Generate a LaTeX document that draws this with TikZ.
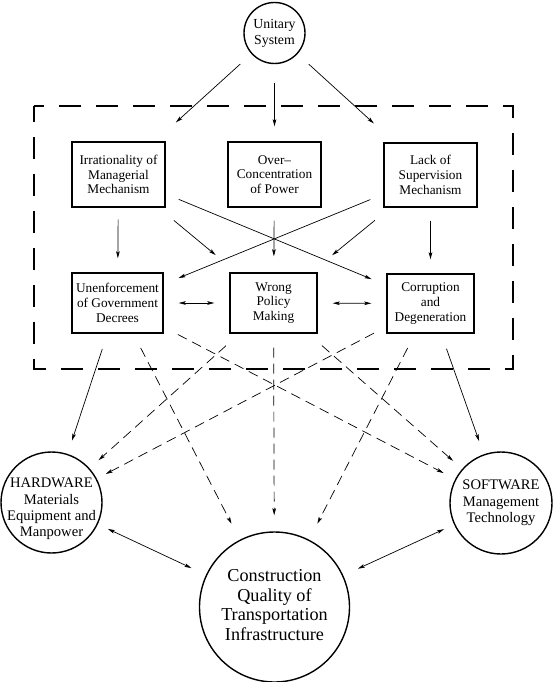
\documentclass[tikz,border=0pt]{standalone}
\usepackage{fontspec}
\setmainfont{Liberation Serif}
\usetikzlibrary{arrows.meta}
\newcommand{\mycirctext}[2][40pt]{\makebox[#1]{\begin{tabular}{@{}c@{}}#2\end{tabular}}}
\begin{document}
\begin{tikzpicture}[x=1pt,y=-1pt,
  boxnode/.style={draw,line width=1.4pt,align=center,inner sep=0pt,font=\fontsize{13.3}{14.7}\selectfont},
  circnode/.style={circle,draw,line width=1.4pt,inner sep=0pt},
  tip/.tip={Stealth[length=7pt,width=3.6pt,inset=1.5pt]},
  arr/.style={line width=0.7pt,-tip,shorten <=15pt,shorten >=15pt},
  darr/.style={arr,dash pattern=on 10pt off 6pt},
  dbl/.style={arr,tip-tip},
  frame/.style={line width=1.8pt,dash pattern=on 22pt off 15pt,dash phase=12pt}
]
\useasboundingbox (0,0) rectangle (553,682);

% dashed frame
\draw[frame] (34,106) -- (513,106) -- (513,369) -- (34,369) -- cycle;

% nodes
\node[circnode,minimum size=61pt,font=\fontsize{13.8}{16.3}\selectfont] (U) at (274.5,33) {\mycirctext{Unitary\\System}};

\node[boxnode,minimum width=93pt,minimum height=65pt] (irr) at (118.5,174.5) {Irrationality of\\Managerial\\Mechanism};
\node[boxnode,minimum width=93pt,minimum height=65pt] (over) at (274.5,174.5) {Over--\\Concentration\\of Power};
\node[boxnode,minimum width=93pt,minimum height=64pt] (lack) at (430.5,175) {Lack of\\Supervision\\Mechanism};

\node[boxnode,minimum width=91pt,minimum height=60pt] (unenf) at (117.5,303) {Unenforcement\\of Government\\Decrees};
\node[boxnode,minimum width=87pt,minimum height=60pt] (wrong) at (273.5,303) {Wrong\\Policy\\Making};
\node[boxnode,minimum width=87pt,minimum height=59pt] (corr) at (430.5,303.5) {Corruption\\and\\Degeneration};

\node[circnode,minimum size=101pt,font=\fontsize{14.6}{16.3}\selectfont] (hw) at (51.5,502.5) {\raisebox{-10pt}[0pt][0pt]{\mycirctext{HARDWARE\\Materials\\Equipment and\\Manpower}}};
\node[circnode,minimum size=102pt,font=\fontsize{14.6}{16.3}\selectfont] (sw) at (501,503) {\mycirctext{SOFTWARE\\Management\\Technology}};
\node[circnode,minimum size=150pt,font=\fontsize{18.2}{19.8}\selectfont] (cq) at (274.5,607) {\mycirctext[60pt]{Construction\\Quality of\\Transportation\\Infrastructure}};

% from Unitary System
\draw[arr,shorten >=28pt] (U) -- (irr);
\draw[arr,shorten <=19pt] (U) -- (over);
\draw[arr,shorten >=28pt] (U) -- (lack);

% top row to middle row
\draw[arr,shorten <=12pt,shorten >=14pt] (irr) -- (unenf);
\draw[arr,shorten <=20pt,shorten >=27pt] (irr) -- (wrong);
\draw[arr,shorten <=14pt,shorten >=16pt] (irr) -- (corr);
\draw[arr,shorten <=13pt,shorten >=16pt] (over) -- (wrong);
\draw[arr,shorten <=14pt,shorten >=16pt] (lack) -- (unenf);
\draw[arr,shorten <=20pt,shorten >=27pt] (lack) -- (wrong);
\draw[arr,shorten <=13pt,shorten >=14pt] (lack) -- (corr);

% middle row mutual
\draw[dbl] (unenf) -- (wrong);
\draw[dbl] (wrong) -- (corr);

% middle row to bottom
\draw[arr,shorten <=16pt,shorten >=14pt] (unenf) -- (hw);
\draw[darr,shorten <=16pt,shorten >=18pt] (unenf) -- (cq);
\draw[darr,shorten <=16pt,shorten >=13pt] (unenf) -- (sw);
\draw[darr,shorten <=18pt,shorten >=12pt] (wrong) -- (hw);
\draw[darr,shorten <=14pt,shorten >=16pt] (wrong) -- (cq);
\draw[darr,shorten <=18pt,shorten >=12pt] (wrong) -- (sw);
\draw[darr,shorten <=14pt,shorten >=10pt] (corr) -- (hw);
\draw[darr,shorten <=16pt,shorten >=18pt] (corr) -- (cq);
\draw[arr,shorten <=16pt,shorten >=14pt] (corr) -- (sw);

% bottom mutual
\draw[dbl,shorten <=11pt,shorten >=16pt] (hw) -- (cq);
\draw[dbl,shorten <=11pt,shorten >=16pt] (sw) -- (cq);
\end{tikzpicture}
\end{document}
